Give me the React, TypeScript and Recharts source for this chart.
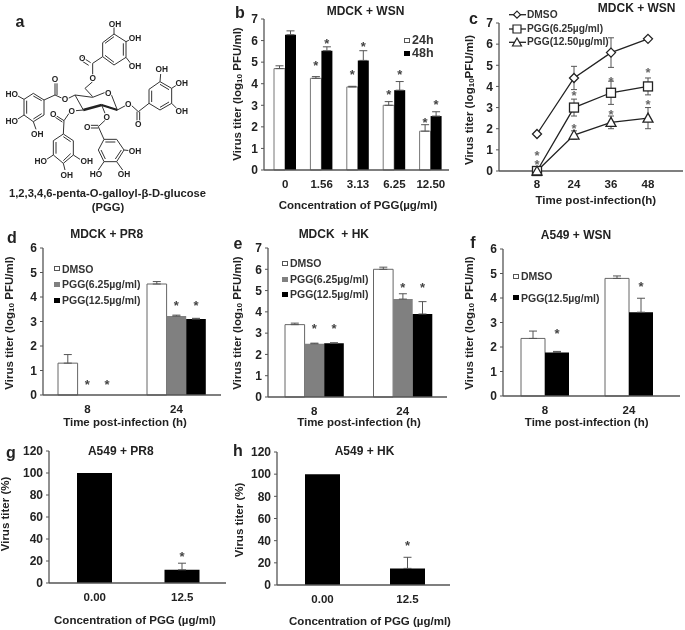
import {
  BarChart,
  Bar,
  LineChart,
  Line,
  XAxis,
  YAxis,
  ErrorBar,
  LabelList,
} from 'recharts';

const INK = '#222';
const AXIS = '#555';
const GREY = '#808080';
const FONT = '"Liberation Sans", Arial, sans-serif';

// panel b
const concB = ['0', '1.56', '3.13', '6.25', '12.50'];
const b24 = [4.7, 4.25, 3.85, 3.0, 1.8];
const b24Err = [0.13, 0.08, 0.03, 0.17, 0.3];
const b24Star = [null, 4.95, 4.55, 3.6, 2.3];
const b48 = [6.27, 5.53, 5.08, 3.7, 2.5];
const b48Err = [0.18, 0.18, 0.45, 0.4, 0.2];
const b48Star = [null, 6.0, 5.85, 4.55, 3.15];

// panel c
const timeC = ['8', '24', '36', '48'];
const cDmso = [1.75, 4.4, 5.6, 6.25];
const cDmsoErr = [null, 0.55, 0.7, null];
const cLow = [0, 3.0, 3.7, 4.0];
const cLowErr = [null, 0.4, 0.55, 0.4];
const cHigh = [0, 1.7, 2.3, 2.5];
const cHighErr = [null, 0.2, 0.3, 0.5];
const cStarUpper = [0.86, 3.7, 4.35, 4.8];
const cStarLower = [0.44, 2.15, 2.8, 3.27];

// panel d
const timeHours = ['8', '24'];
const dDmso = [1.3, 4.53];
const dDmsoErr = [0.35, 0.1];
const dLow = [0, 3.22];
const dLowErr = [null, 0.04];
const dLowStar = [0.55, 3.76];
const dHigh = [0, 3.1];
const dHighErr = [null, 0.03];
const dHighStar = [0.55, 3.76];

// panel e
const eDmso = [3.4, 6.0];
const eDmsoErr = [0.07, 0.1];
const eLow = [2.5, 4.6];
const eLowErr = [0.03, 0.25];
const eLowStar = [3.32, 5.27];
const eHigh = [2.52, 3.9];
const eHighErr = [0.03, 0.58];
const eHighStar = [3.32, 5.27];

// panel f
const fDmso = [2.35, 4.8];
const fDmsoErr = [0.3, 0.1];
const fPgg = [1.78, 3.42];
const fPggErr = [0.04, 0.57];
const fPggStar = [2.67, 4.57];

// panels g, h
const concPct = ['0.00', '12.5'];
const gTiter = [100, 12];
const gErr = [null, 6];
const gStar = [null, 26.7];
const hTiter = [100, 15];
const hErr = [null, 10];
const hStar = [null, 37.6];

const ticks6 = [0, 1, 2, 3, 4, 5, 6];
const ticks7 = [0, 1, 2, 3, 4, 5, 6, 7];
const ticksPct = [0, 20, 40, 60, 80, 100, 120];

const PAD_L = 30;
const PAD_T = 8;
const PAD_R = 3;
const PAD_B = 30;

type Series = {
  values: number[];
  errs: (number | null)[];
  stars?: (number | null)[];
  fill: string;
  stroke?: string;
};

type Plot = { l: number; t: number; r: number; b: number };

function Txt({ x, y, size = 11.5, rotate = 0, left = false, color = INK, children }: any) {
  const tx = left ? 'translateY(-50%)' : `translate(-50%,-50%) rotate(${rotate}deg)`;
  return (
    <div
      style={{
        position: 'absolute',
        left: x,
        top: y,
        transform: tx,
        fontSize: size,
        lineHeight: 1,
        whiteSpace: 'pre',
        color,
      }}
    >
      {children}
    </div>
  );
}

// the asterisk is drawn at the top of an empty bar whose height is the star's value
const starLabel = (p: any) => {
  if (p.value == null) return null;
  const box = p.viewBox ?? p;
  return (
    <text x={box.x + box.width / 2} y={box.y + 7} textAnchor="middle" fontSize={13} fontWeight={700} fill="#444">
      *
    </text>
  );
};

function BarPanel({ plot, cats, series, yMax, ticks, barW, padL = 0, padR = 0, tickGap = 10 }: {
  plot: Plot;
  cats: string[];
  series: Series[];
  yMax: number;
  ticks: number[];
  barW: number;
  padL?: number;
  padR?: number;
  tickGap?: number;
}) {
  const plotH = plot.b - plot.t;
  const rows = cats.map((c, i) => {
    const row: any = { cat: c };
    series.forEach((s, k) => {
      row[`v${k}`] = s.values[i];
      row[`e${k}`] = s.errs[i] == null ? null : [0, s.errs[i]];
      row[`s${k}`] = s.stars ? s.stars[i] : null;
    });
    return row;
  });

  return (
    <div style={{ position: 'absolute', left: plot.l - PAD_L, top: plot.t - PAD_T }}>
      <BarChart
        width={plot.r - plot.l + PAD_L + PAD_R}
        height={plotH + PAD_T + PAD_B}
        data={rows}
        margin={{ top: PAD_T, right: PAD_R, bottom: 0, left: 0 }}
        barGap={0}
      >
        <XAxis
          dataKey="cat"
          height={PAD_B}
          tickLine={false}
          tickSize={0}
          tickMargin={tickGap}
          padding={{ left: padL, right: padR }}
          axisLine={{ stroke: AXIS, strokeWidth: 1.3 }}
          tick={{ fontSize: 11.5, fontWeight: 700, fill: INK, fontFamily: FONT }}
        />
        <XAxis xAxisId="stars" dataKey="cat" hide padding={{ left: padL, right: padR }} />
        <YAxis
          width={PAD_L}
          domain={[0, yMax]}
          ticks={ticks}
          interval={0}
          tickSize={3}
          tickMargin={3}
          axisLine={{ stroke: AXIS, strokeWidth: 1.3 }}
          tickLine={{ stroke: AXIS }}
          tick={{ fontSize: 12, fontWeight: 700, fill: INK, fontFamily: FONT }}
        />
        {series.map((s, k) => (
          <Bar
            key={k}
            dataKey={`v${k}`}
            fill={s.fill}
            stroke={s.stroke}
            strokeWidth={s.stroke ? 1 : 0}
            barSize={barW}
            isAnimationActive={false}
          >
            <ErrorBar dataKey={`e${k}`} direction="y" width={4} stroke="#555" strokeWidth={1} />
          </Bar>
        ))}
        {series.map((s, k) => (
          <Bar
            key={`star${k}`}
            xAxisId="stars"
            dataKey={`s${k}`}
            fill="none"
            barSize={barW}
            isAnimationActive={false}
          >
            <LabelList content={starLabel} />
          </Bar>
        ))}
      </BarChart>
    </div>
  );
}

const mark = (kind: string) => (p: any) => {
  const { cx, cy, index } = p;
  const common = { fill: '#fff', stroke: '#222', strokeWidth: 1.3 };
  if (kind === 'diamond') {
    return <path key={index} d={`M${cx} ${cy - 4.5}L${cx + 4.5} ${cy}L${cx} ${cy + 4.5}L${cx - 4.5} ${cy}Z`} {...common} />;
  }
  if (kind === 'square') {
    return <rect key={index} x={cx - 4.5} y={cy - 4.5} width={9} height={9} {...common} />;
  }
  return <path key={index} d={`M${cx} ${cy - 5}L${cx + 5} ${cy + 4}L${cx - 5} ${cy + 4}Z`} {...common} />;
};

const starDot = (p: any) => (
  <text key={p.index} x={p.cx} y={p.cy + 7} textAnchor="middle" fontSize={13} fontWeight={700} fill="#666">
    *
  </text>
);

function LinePanel() {
  const plot = { l: 499, t: 23, r: 683, b: 171 };
  const rows = timeC.map((t, i) => ({
    t,
    dmso: cDmso[i],
    dmsoErr: cDmsoErr[i],
    low: cLow[i],
    lowErr: cLowErr[i],
    high: cHigh[i],
    highErr: cHighErr[i],
    starA: cStarUpper[i],
    starB: cStarLower[i],
  }));
  const lines = [
    { key: 'dmso', err: 'dmsoErr', kind: 'diamond' },
    { key: 'low', err: 'lowErr', kind: 'square' },
    { key: 'high', err: 'highErr', kind: 'triangle' },
  ];
  return (
    <div style={{ position: 'absolute', left: plot.l - PAD_L, top: plot.t - PAD_T }}>
      <LineChart
        width={plot.r - plot.l + PAD_L}
        height={plot.b - plot.t + PAD_T + PAD_B}
        data={rows}
        margin={{ top: PAD_T, right: 0, bottom: 0, left: 0 }}
      >
        <XAxis
          dataKey="t"
          height={PAD_B}
          tickLine={false}
          tickSize={0}
          tickMargin={9}
          padding={{ left: 38, right: 35 }}
          axisLine={{ stroke: AXIS, strokeWidth: 1.3 }}
          tick={{ fontSize: 11.5, fontWeight: 700, fill: INK, fontFamily: FONT }}
        />
        <YAxis
          width={PAD_L}
          domain={[0, 7]}
          ticks={ticks7}
          interval={0}
          tickSize={3}
          tickMargin={3}
          axisLine={{ stroke: AXIS, strokeWidth: 1.3 }}
          tickLine={{ stroke: AXIS }}
          tick={{ fontSize: 12, fontWeight: 700, fill: INK, fontFamily: FONT }}
        />
        {lines.map((l) => (
          <Line
            key={l.key}
            dataKey={l.key}
            stroke="#222"
            strokeWidth={1.3}
            dot={mark(l.kind)}
            isAnimationActive={false}
          >
            <ErrorBar dataKey={l.err} direction="y" width={3} stroke="#555" strokeWidth={1} />
          </Line>
        ))}
        <Line dataKey="starA" stroke="none" dot={starDot} isAnimationActive={false} />
        <Line dataKey="starB" stroke="none" dot={starDot} isAnimationActive={false} />
      </LineChart>
    </div>
  );
}

function Swatch({ x, y, w = 5.5, h = 5, fill }: any) {
  return (
    <div
      style={{
        position: 'absolute',
        left: x,
        top: y - h / 2,
        width: w,
        height: h,
        boxSizing: 'border-box',
        background: fill,
        border: fill === '#fff' ? '1px solid #555' : 'none',
      }}
    />
  );
}

function SwatchLegend({ x, textX, items, size = 10.5 }: any) {
  return items.map((it: any) => (
    <div key={it.label}>
      <Swatch x={x} y={it.y} fill={it.fill} />
      <Txt x={textX} y={it.y} left size={size} color="#333">
        {it.label}
      </Txt>
    </div>
  ));
}

function LineKey() {
  const keys = [
    { y: 14.7, label: 'DMSO', d: 'M517 11.2L520.5 14.7L517 18.2L513.5 14.7Z' },
    { y: 29, label: 'PGG(6.25µg/ml)', d: 'M513 25H521V33H513Z' },
    { y: 42.3, label: 'PGG(12.50µg/ml)', d: 'M517 38L521.5 46H512.5Z' },
  ];
  return (
    <>
      <svg width={685} height={60} style={{ position: 'absolute', left: 0, top: 0, pointerEvents: 'none' }}>
        {keys.map((k) => (
          <g key={k.label}>
            <line x1={509} x2={526} y1={k.y} y2={k.y} stroke="#222" strokeWidth={1.3} />
            <path d={k.d} fill="#fff" stroke="#222" strokeWidth={1.2} />
          </g>
        ))}
      </svg>
      {keys.map((k) => (
        <Txt key={k.label} x={527} y={k.y} left size={10.2} color="#333">
          {k.label}
        </Txt>
      ))}
    </>
  );
}

// drawn in 3x units, then scaled down by the viewBox
const RING_BONDS = [
  // top galloyl
  'M308 128L342 102L378 125L378 172L342 195L308 170Z',
  'M315 130L342 110M370 130L370 167M342 187L315 166',
  'M342 102L342 82M378 125L392 118M378 172L392 190M308 170L278 190M278 190L278 225M272 188L247 172M266 196L241 180',
  'M278 245L255 265L278 290',
  // sugar ring
  'M225 285L278 292L316 277M334 284L352 330L305 315L250 330L225 285',
  // left galloyl
  'M132 300L100 280L72 298L72 345L100 365L132 345Z',
  'M125 302L100 288M80 302L80 341M100 357L125 341',
  'M72 298L52 287M72 345L52 358M100 365L108 388M132 300L165 285L165 250M171 285L171 250M165 285L187 295M205 295L225 285',
  // lower galloyl
  'M190 402L220 422L220 465L190 490L160 465L160 422Z',
  'M190 410L212 425M212 461L190 482M168 461L168 426',
  'M250 330L228 332M207 340L192 362M192 362L170 348M187 366L166 352M192 362L190 402M160 465L140 478M220 465L240 478M190 490L195 510',
  // front galloyl
  'M312 418L350 418L372 450L350 485L312 485L295 450Z',
  'M316 426L346 426M364 450L346 477M316 477L303 450',
  'M305 315L315 340M316 360L295 380M295 376L272 376M295 384L272 384M295 380L312 418M372 450L390 452M312 485L295 510M350 485L368 510',
  // right galloyl
  'M447 310L447 268L480 245L515 265L515 310L480 330Z',
  'M455 306L455 272M480 253L507 269M507 306L480 322',
  'M352 330L378 316M394 316L415 335M411 335L411 362M419 335L419 362M415 335L447 310M480 245L482 222M515 265L530 255M515 310L530 325',
];
const RING_BOLD = 'M250 330L305 315M305 315L352 330';
const ATOMS = [
  ['OH', 345, 72], ['OH', 405, 115], ['OH', 405, 197], ['O', 247, 175], ['O', 278, 235],
  ['O', 325, 280], ['O', 165, 237], ['O', 195, 298], ['HO', 35, 282], ['HO', 35, 362],
  ['OH', 112, 402], ['O', 215, 332], ['O', 160, 343], ['HO', 122, 483], ['OH', 260, 483],
  ['OH', 200, 525], ['O', 320, 350], ['O', 262, 380], ['OH', 405, 452], ['HO', 288, 523],
  ['OH', 372, 523], ['O', 385, 312], ['O', 415, 372], ['OH', 485, 207], ['OH', 545, 250],
  ['OH', 545, 333],
] as const;

function Molecule() {
  return (
    <svg
      width={230}
      height={220}
      viewBox="0 0 690 660"
      style={{ position: 'absolute', left: 0, top: 0 }}
    >
      {RING_BONDS.map((d, i) => (
        <path key={i} d={d} fill="none" stroke="#333" strokeWidth={3} />
      ))}
      <path d={RING_BOLD} fill="none" stroke="#222" strokeWidth={7} />
      {ATOMS.map(([t, x, y], i) => (
        <text
          key={i}
          x={x}
          y={y + 9}
          textAnchor="middle"
          fontSize={25}
          fontWeight={700}
          fontFamily={FONT}
          fill="#222"
          stroke="#fff"
          strokeWidth={5}
          paintOrder="stroke"
        >
          {t}
        </text>
      ))}
    </svg>
  );
}

const Log10 = ({ gap = ' ' }: { gap?: string }) => (
  <>
    Virus titer (log<span style={{ fontSize: '70%', verticalAlign: '-15%' }}>10</span>
    {gap}PFU/ml)
  </>
);

export default function App() {
  return (
    <div
      style={{
        position: 'absolute',
        left: 0,
        top: 0,
        width: 685,
        height: 630,
        overflow: 'hidden',
        background: '#fff',
        fontFamily: FONT,
        fontWeight: 700,
        filter: 'blur(0.4px)',
      }}
    >
      <Molecule />
      <Txt x={20} y={22} size={16}>a</Txt>
      <Txt x={107.5} y={194} size={11.2}>1,2,3,4,6-penta-O-galloyl-β-D-glucose</Txt>
      <Txt x={108} y={208} size={11.2}>(PGG)</Txt>

      {/* b */}
      <BarPanel
        plot={{ l: 264, t: 19, r: 449, b: 170 }}
        cats={concB}
        yMax={7}
        ticks={ticks7}
        barW={11}
        padL={3}
        series={[
          { values: b24, errs: b24Err, stars: b24Star, fill: '#fff', stroke: '#777' },
          { values: b48, errs: b48Err, stars: b48Star, fill: '#000' },
        ]}
      />
      <Txt x={240} y={12.7} size={16}>b</Txt>
      <Txt x={365.5} y={11} size={12}>MDCK + WSN</Txt>
      <Txt x={238} y={94} rotate={-90}><Log10 /></Txt>
      <Txt x={358} y={206}>Concentration of PGG(µg/ml)</Txt>
      <SwatchLegend x={404} textX={412} size={12.5} items={[
        { label: '24h', y: 40, fill: '#fff' },
        { label: '48h', y: 53, fill: '#000' },
      ]} />

      {/* c */}
      <LinePanel />
      <LineKey />
      <Txt x={473.5} y={19} size={16}>c</Txt>
      <Txt x={636.7} y={7.5} size={12}>MDCK + WSN</Txt>
      <Txt x={470} y={100} rotate={-90}><Log10 gap="" /></Txt>
      <Txt x={595.8} y={201}>Time post-infection(h)</Txt>

      {/* d */}
      <BarPanel
        plot={{ l: 43, t: 248, r: 221, b: 395 }}
        cats={timeHours}
        yMax={6}
        ticks={ticks6}
        barW={19.6}
        series={[
          { values: dDmso, errs: dDmsoErr, fill: '#fff', stroke: '#666' },
          { values: dLow, errs: dLowErr, stars: dLowStar, fill: GREY },
          { values: dHigh, errs: dHighErr, stars: dHighStar, fill: '#000' },
        ]}
      />
      <Txt x={12} y={238} size={16}>d</Txt>
      <Txt x={106.7} y={234.3} size={12}>MDCK + PR8</Txt>
      <Txt x={10} y={322.5} rotate={-90}><Log10 /></Txt>
      <Txt x={125} y={423.3}>Time post-infection (h)</Txt>
      <SwatchLegend x={54} textX={62} items={[
        { label: 'DMSO', y: 268.7, fill: '#fff' },
        { label: 'PGG(6.25µg/ml)', y: 284.3, fill: GREY },
        { label: 'PGG(12.5µg/ml)', y: 300, fill: '#000' },
      ]} />

      {/* e */}
      <BarPanel
        plot={{ l: 268, t: 248, r: 447, b: 397 }}
        cats={timeHours}
        yMax={7}
        ticks={ticks7}
        barW={19.6}
        padL={2}
        series={[
          { values: eDmso, errs: eDmsoErr, fill: '#fff', stroke: '#666' },
          { values: eLow, errs: eLowErr, stars: eLowStar, fill: GREY },
          { values: eHigh, errs: eHighErr, stars: eHighStar, fill: '#000' },
        ]}
      />
      <Txt x={238} y={244} size={16}>e</Txt>
      <Txt x={333.8} y={234.3} size={12}>MDCK  + HK</Txt>
      <Txt x={238} y={322.5} rotate={-90}><Log10 /></Txt>
      <Txt x={359} y={423}>Time post-infection (h)</Txt>
      <SwatchLegend x={282} textX={290} items={[
        { label: 'DMSO', y: 263.3, fill: '#fff' },
        { label: 'PGG(6.25µg/ml)', y: 279.3, fill: GREY },
        { label: 'PGG(12.5µg/ml)', y: 294, fill: '#000' },
      ]} />

      {/* f */}
      <BarPanel
        plot={{ l: 503, t: 249, r: 680, b: 396 }}
        cats={timeHours}
        yMax={6}
        ticks={ticks6}
        barW={24}
        padR={9}
        series={[
          { values: fDmso, errs: fDmsoErr, fill: '#fff', stroke: '#666' },
          { values: fPgg, errs: fPggErr, stars: fPggStar, fill: '#000' },
        ]}
      />
      <Txt x={473} y={243} size={16}>f</Txt>
      <Txt x={576} y={235} size={12}>A549 + WSN</Txt>
      <Txt x={470} y={322.5} rotate={-90}><Log10 /></Txt>
      <Txt x={586.7} y={423}>Time post-infection (h)</Txt>
      <SwatchLegend x={513} textX={521} items={[
        { label: 'DMSO', y: 276, fill: '#fff' },
        { label: 'PGG(12.5µg/ml)', y: 297.7, fill: '#000' },
      ]} />

      {/* g */}
      <BarPanel
        plot={{ l: 49, t: 451, r: 226, b: 583 }}
        cats={concPct}
        yMax={120}
        ticks={ticksPct}
        barW={35}
        padL={2}
        series={[{ values: gTiter, errs: gErr, stars: gStar, fill: '#000' }]}
      />
      <Txt x={11} y={453} size={16}>g</Txt>
      <Txt x={120.8} y={451} size={12}>A549 + PR8</Txt>
      <Txt x={5.7} y={514} rotate={-90}>Virus titer (%)</Txt>
      <Txt x={135} y={621}>Concentration of PGG (µg/ml)</Txt>

      {/* h */}
      <BarPanel
        plot={{ l: 277, t: 452, r: 450, b: 585 }}
        cats={concPct}
        yMax={120}
        ticks={ticksPct}
        barW={35}
        padL={3}
        series={[{ values: hTiter, errs: hErr, stars: hStar, fill: '#000' }]}
      />
      <Txt x={238} y={451} size={16}>h</Txt>
      <Txt x={364.5} y={450.7} size={12}>A549 + HK</Txt>
      <Txt x={240} y={520} rotate={-90}>Virus titer (%)</Txt>
      <Txt x={370} y={621.7}>Concentration of PGG (µg/ml)</Txt>
    </div>
  );
}
